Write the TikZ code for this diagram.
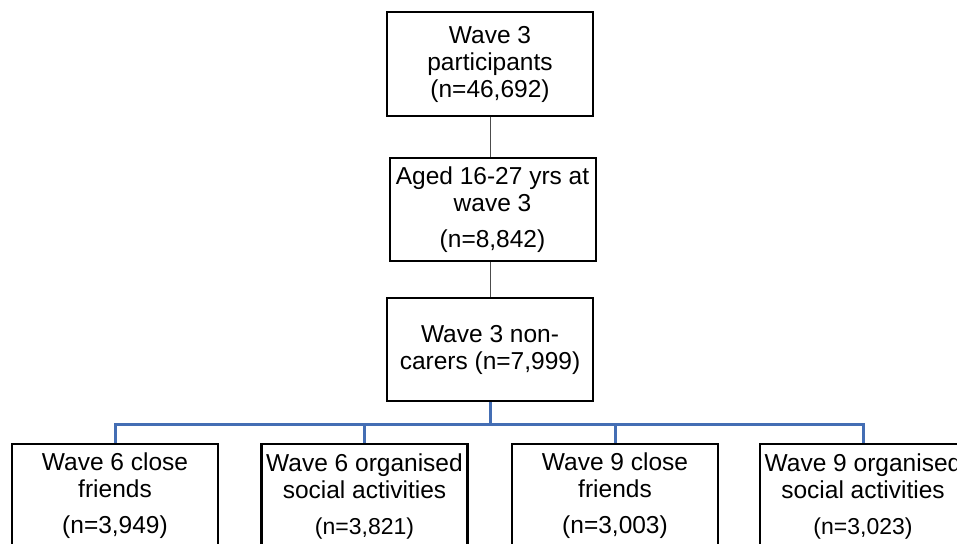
\documentclass[tikz,border=0pt]{standalone}
\usepackage{fontspec}
\setmainfont{Liberation Sans}
\definecolor{barblue}{RGB}{68,110,180}
\begin{document}
\begin{tikzpicture}[x=1pt,y=-1pt,
  boxa/.style={draw=black,line width=2pt,fill=white,minimum width=206pt,minimum height=103pt,inner sep=0pt,align=center,font=\fontsize{24.5}{27}\selectfont},
  boxb/.style={boxa,line width=2.5pt,minimum height=104pt},
  thin/.style={draw=black!70,line width=1pt},
  bar/.style={draw=barblue,line width=3pt}]
\useasboundingbox (0,0) rectangle (957,543);
\clip (0,0) rectangle (957,543);
\node[boxa] (n1) at (490,64) {Wave 3\\participants\\(n=46,692)};
\node[boxa] (n2) at (492.5,209.5) {Aged 16-27 yrs at\\wave 3\\[9pt](n=8,842)};
\node[boxa] (n3) at (490,349.5) {Wave 3 non-\\carers (n=7,999)};
\node[boxb] (b1) at (115,496) {Wave 6 close\\friends\\[9pt](n=3,949)};
\node[boxb] (b2) at (364.5,496) {Wave 6 organised\\social activities\\[9pt]{\fontsize{23}{27}\selectfont(n=3,821)}};
\node[boxb] (b3) at (615,496) {Wave 9 close\\friends\\[9pt](n=3,003)};
\node[boxb] (b4) at (863,496) {Wave 9 organised\\social activities\\[9pt]{\fontsize{23}{27}\selectfont(n=3,023)}};
\coordinate (bar) at (490,424);
\draw[thin] (n1.south) -- (n2.north -| n1.south);
\draw[thin] (n2.south -| n3.north) -- (n3.north);
\draw[bar] (n3.south) -- (bar);
\draw[bar] (b1.north) |- (bar) -| (b4.north);
\draw[bar] (b2.north) -- (b2.north |- bar);
\draw[bar] (b3.north) -- (b3.north |- bar);
\end{tikzpicture}
\end{document}
